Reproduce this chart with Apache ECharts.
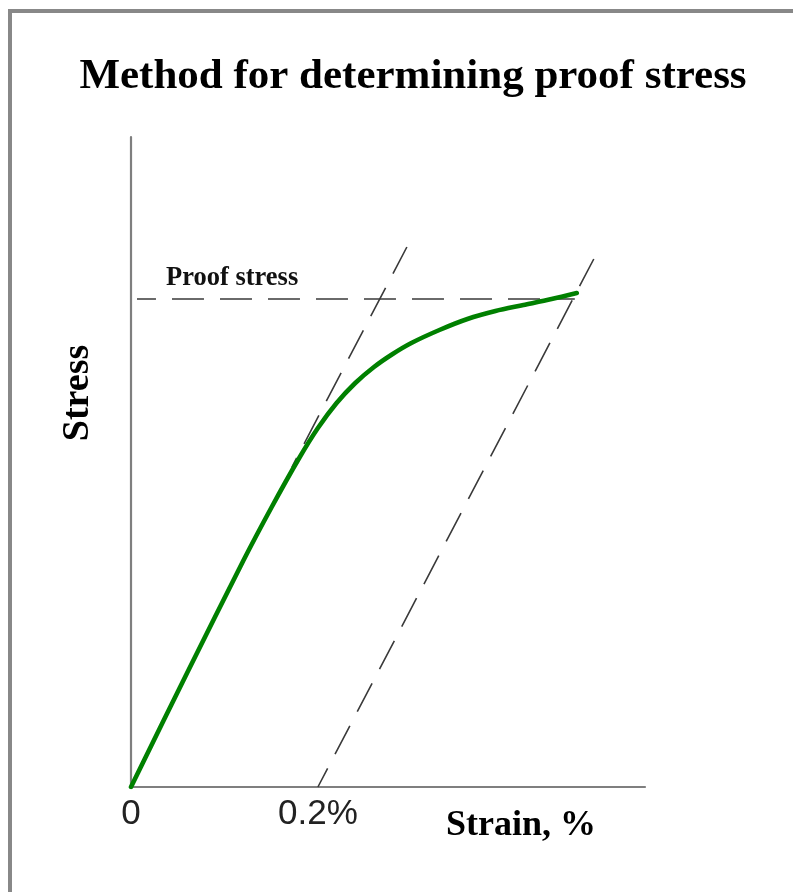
<!DOCTYPE html>
<html>
<head>
<meta charset="utf-8">
<title>Method for determining proof stress</title>
<script src="https://cdn.jsdelivr.net/npm/echarts@6/dist/echarts.min.js"></script>
<style>
  html, body { margin: 0; padding: 0; background: #ffffff; }
  #chart { width: 793px; height: 892px; }
</style>
</head>
<body>
<div id="chart"></div>
<script>
// Stress–strain curve (strain in %, stress in arbitrary units)
const curveStrain = [0, 0.06, 0.12, 0.15, 0.18, 0.20, 0.22, 0.24, 0.26, 0.28, 0.30, 0.33, 0.36, 0.39, 0.42, 0.45, 0.477];
const curveStress = [0, 114, 226, 279, 329, 359, 384, 404, 420, 433, 444, 457, 468, 476, 482, 488, 494];

// Elastic (initial slope) line, drawn from its upper end downwards
const elasticStrain = [0.2952, 0.1722];
const elasticStress = [540, 320];

// Same slope, offset by 0.2 % strain
const offsetStrain = [0.2, 0.4952];
const offsetStress = [0, 528];

// Proof stress level
const proofStrain = [0.0064, 0.4749];
const proofStress = [488, 488];

// Strain axis tick labels
const tickValues = [0, 0.2];
const tickLabels = ['0', '0.2%'];

const axisRange = { xMax: 0.55, yMax: 650 };

const zip = (xs, ys) => xs.map((x, i) => [x, ys[i]]);

const dashStyle = (offset) => ({
  color: '#3a3a3a',
  width: 1.6,
  type: [32, 16],
  dashOffset: offset
});

const chart = echarts.init(document.getElementById('chart'), null, { renderer: 'canvas' });

chart.setOption({
  backgroundColor: '#ffffff',
  animation: false,
  grid: { left: 131, top: 137, width: 514, height: 650, containLabel: false },
  xAxis: {
    type: 'value',
    min: 0,
    max: axisRange.xMax,
    interval: 0.2,
    splitLine: { show: false },
    axisTick: { show: false },
    axisLine: { show: true, lineStyle: { color: '#7f7f7f', width: 2.2 } },
    axisLabel: {
      show: true,
      margin: 10,
      showMaxLabel: false,
      fontFamily: 'Liberation Sans',
      fontSize: 35,
      color: '#222222',
      formatter: (v) => {
        const i = tickValues.findIndex(t => Math.abs(t - v) < 1e-9);
        return i >= 0 ? tickLabels[i] : '';
      }
    }
  },
  yAxis: {
    type: 'value',
    min: 0,
    max: axisRange.yMax,
    splitLine: { show: false },
    axisTick: { show: false },
    axisLabel: { show: false },
    axisLine: { show: true, lineStyle: { color: '#7f7f7f', width: 2.2 } }
  },
  series: [
    {
      type: 'line',
      data: zip(proofStrain, proofStress),
      symbol: 'none',
      lineStyle: dashStyle(13),
      z: 2
    },
    {
      type: 'line',
      data: zip(elasticStrain, elasticStress),
      symbol: 'none',
      lineStyle: dashStyle(2),
      z: 2
    },
    {
      type: 'line',
      data: zip(offsetStrain, offsetStress),
      symbol: 'none',
      lineStyle: dashStyle(11),
      z: 2
    },
    {
      type: 'line',
      data: zip(curveStrain, curveStress),
      symbol: 'none',
      smooth: 0.3,
      lineStyle: { color: '#008000', width: 4.6, cap: 'round' },
      z: 3
    }
  ],
  graphic: [
    {
      type: 'rect',
      shape: { x: 10, y: 11, width: 820, height: 920 },
      style: { fill: 'none', stroke: '#888888', lineWidth: 4 },
      silent: true
    },
    {
      type: 'text',
      x: 413, y: 77,
      style: {
        text: 'Method for determining proof stress',
        fontFamily: 'Liberation Serif',
        fontWeight: 'bold',
        fontSize: 43,
        fill: '#000000',
        textAlign: 'center',
        textVerticalAlign: 'middle'
      }
    },
    {
      type: 'text',
      x: 166, y: 278,
      style: {
        text: 'Proof stress',
        fontFamily: 'Liberation Serif',
        fontWeight: 'bold',
        fontSize: 26.5,
        fill: '#111111',
        textAlign: 'left',
        textVerticalAlign: 'middle'
      }
    },
    {
      type: 'text',
      x: 521, y: 826,
      style: {
        text: 'Strain, %',
        fontFamily: 'Liberation Serif',
        fontWeight: 'bold',
        fontSize: 36,
        fill: '#000000',
        textAlign: 'center',
        textVerticalAlign: 'middle'
      }
    },
    {
      type: 'text',
      x: 78, y: 393,
      rotation: Math.PI / 2,
      style: {
        text: 'Stress',
        fontFamily: 'Liberation Serif',
        fontWeight: 'bold',
        fontSize: 38,
        fill: '#000000',
        textAlign: 'center',
        textVerticalAlign: 'middle'
      }
    }
  ]
});
</script>
</body>
</html>
